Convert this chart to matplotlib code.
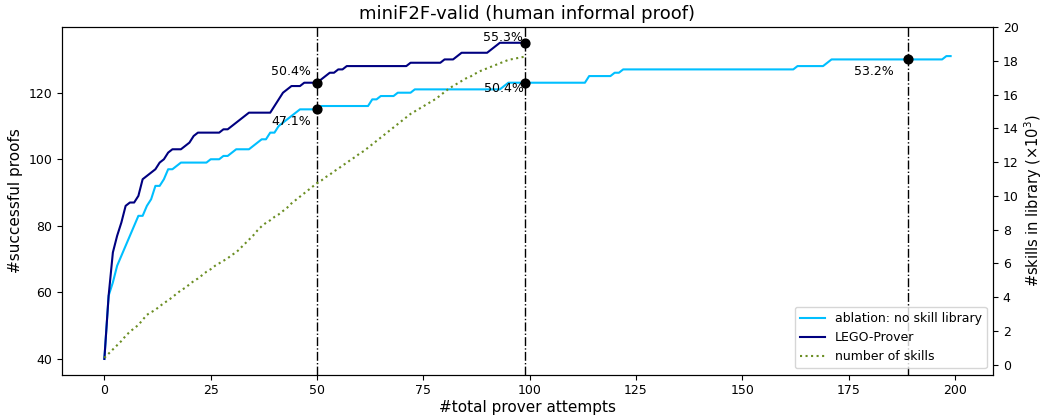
import matplotlib
matplotlib.use("Agg")
import matplotlib.pyplot as plt

attempts_lego = list(range(100))
lego = [40, 59, 72, 77, 81, 86, 87, 87, 89, 94,
        95, 96, 97, 99, 100, 102, 103, 103, 103, 104,
        105, 107, 108, 108, 108, 108, 108, 108, 109, 109,
        110, 111, 112, 113, 114, 114, 114, 114, 114, 114,
        116, 118, 120, 121, 122, 122, 122, 123, 123, 123,
        123, 124, 125, 126, 126, 127, 127, 128, 128, 128,
        128, 128, 128, 128, 128, 128, 128, 128, 128, 128,
        128, 128, 129, 129, 129, 129, 129, 129, 129, 129,
        130, 130, 130, 131, 132, 132, 132, 132, 132, 132,
        132, 133, 134, 135, 135, 135, 135, 135, 135, 135]

attempts_ablation = list(range(200))
ablation = [40, 59, 63, 68, 71, 74, 77, 80, 83, 83,
            86, 88, 92, 92, 94, 97, 97, 98, 99, 99,
            99, 99, 99, 99, 99, 100, 100, 100, 101, 101,
            102, 103, 103, 103, 103, 104, 105, 106, 106, 108,
            108, 110, 111, 112, 113, 114, 115, 115, 115, 115,
            115, 116, 116, 116, 116, 116, 116, 116, 116, 116,
            116, 116, 116, 118, 118, 119, 119, 119, 119, 120,
            120, 120, 120, 121, 121, 121, 121, 121, 121, 121,
            121, 121, 121, 121, 121, 121, 121, 121, 121, 121,
            121, 121, 121, 121, 122, 123, 123, 123, 123, 123,
            123, 123, 123, 123, 123, 123, 123, 123, 123, 123,
            123, 123, 123, 123, 125, 125, 125, 125, 125, 125,
            126, 126, 127, 127, 127, 127, 127, 127, 127, 127,
            127, 127, 127, 127, 127, 127, 127, 127, 127, 127,
            127, 127, 127, 127, 127, 127, 127, 127, 127, 127,
            127, 127, 127, 127, 127, 127, 127, 127, 127, 127,
            127, 127, 127, 128, 128, 128, 128, 128, 128, 128,
            129, 130, 130, 130, 130, 130, 130, 130, 130, 130,
            130, 130, 130, 130, 130, 130, 130, 130, 130, 130,
            130, 130, 130, 130, 130, 130, 130, 130, 131, 131]

skills_k = [0.40, 0.65, 0.90, 1.15, 1.40, 1.70, 1.95, 2.15, 2.35, 2.65,
            2.95, 3.10, 3.25, 3.45, 3.65, 3.80, 4.00, 4.20, 4.40, 4.55,
            4.75, 4.95, 5.10, 5.30, 5.50, 5.65, 5.85, 6.00, 6.15, 6.30,
            6.50, 6.65, 6.90, 7.15, 7.40, 7.65, 7.95, 8.20, 8.40, 8.55,
            8.75, 8.90, 9.10, 9.30, 9.55, 9.75, 9.95, 10.15, 10.35, 10.55,
            10.75, 10.90, 11.10, 11.25, 11.45, 11.60, 11.80, 11.95, 12.15, 12.30,
            12.50, 12.65, 12.85, 13.05, 13.25, 13.45, 13.65, 13.85, 14.05, 14.25,
            14.45, 14.65, 14.85, 15.00, 15.15, 15.30, 15.45, 15.60, 15.75, 15.95,
            16.15, 16.35, 16.50, 16.65, 16.80, 16.95, 17.05, 17.20, 17.35, 17.45,
            17.55, 17.65, 17.75, 17.85, 17.95, 18.05, 18.10, 18.15, 18.20, 18.25]

marker_x = [50, 50, 99, 99, 189]
marker_y = [123, 115, 135, 123, 130]
marker_labels = ["50.4%", "47.1%", "55.3%", "50.4%", "53.2%"]
label_offsets = [(-26, 11), (-26, -12), (-22, 5), (-21, -6), (-34, -12)]
vlines_x = [50, 99, 189]

fig, ax = plt.subplots(figsize=(10.43, 4.15), dpi=100)
fig.subplots_adjust(left=0.0595, right=0.952, top=0.935, bottom=0.097)

ax.plot(attempts_ablation, ablation, color="deepskyblue", lw=1.5,
        label="ablation: no skill library")
ax.plot(attempts_lego, lego, color="navy", lw=1.5, label="LEGO-Prover")
for xv in vlines_x:
    ax.axvline(xv, color="black", ls="-.", lw=1)
ax.scatter(marker_x, marker_y, color="black", s=40, zorder=5)
for (mx, my, lab, off) in zip(marker_x, marker_y, marker_labels, label_offsets):
    ax.annotate(lab, (mx, my), xytext=off, textcoords="offset pixels",
                ha="center", va="center", fontsize=9)

ax2 = ax.twinx()
ax2.plot(attempts_lego, skills_k, color="olivedrab", ls=":", lw=1.5,
         label="number of skills")
ax2.set_ylim(-0.6, 20)
ax2.set_yticks(range(0, 21, 2))
ax.set_ylim(35.25, 139.75)
ax.set_xlim(-9.95, 208.95)

ax.set_title("miniF2F-valid (human informal proof)", fontsize=13)
ax.set_xlabel("#total prover attempts", fontsize=11, labelpad=2)
ax.set_ylabel("#successful proofs", fontsize=11)
ax2.set_ylabel(r"#skills in library ($\times10^3$)", fontsize=10.5, labelpad=3)
ax.tick_params(labelsize=9)
ax2.tick_params(labelsize=9)

h1, l1 = ax.get_legend_handles_labels()
h2, l2 = ax2.get_legend_handles_labels()
ax2.legend(h1 + h2, l1 + l2, loc="lower right", fontsize=9)

fig.savefig("out.png", dpi=100)
